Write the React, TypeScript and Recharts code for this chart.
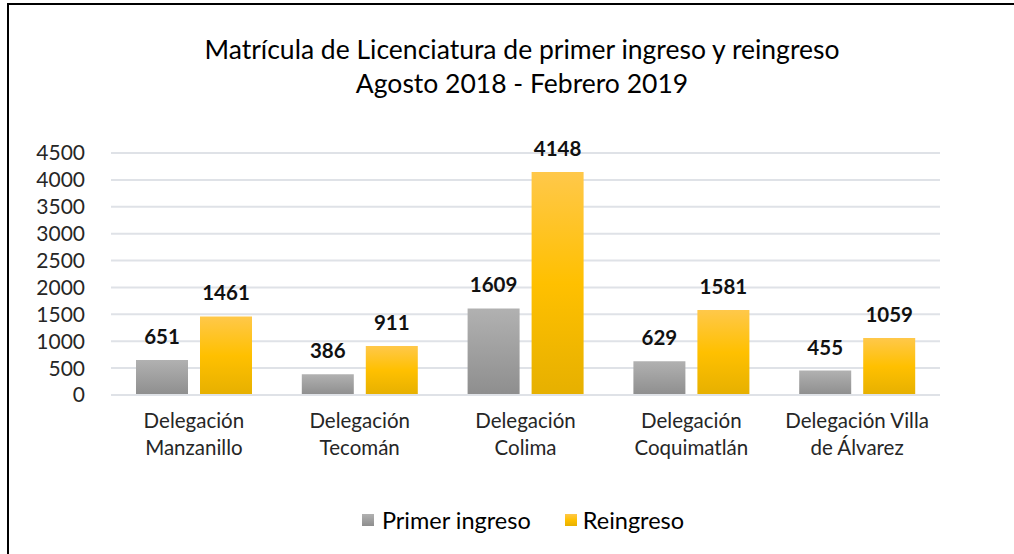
import React from 'react';
import { BarChart, Bar, XAxis, YAxis, CartesianGrid, LabelList } from 'recharts';

const categories = [
  'Delegación\nManzanillo',
  'Delegación\nTecomán',
  'Delegación\nColima',
  'Delegación\nCoquimatlán',
  'Delegación Villa\nde Álvarez',
];
const primerIngreso = [651, 386, 1609, 629, 455];
const reingreso = [1461, 911, 4148, 1581, 1059];
const yTicks = [0, 500, 1000, 1500, 2000, 2500, 3000, 3500, 4000, 4500];
const titleLines = ['Matrícula de Licenciatura de primer ingreso y reingreso', 'Agosto 2018 - Febrero 2019'];
const seriesNames = ['Primer ingreso', 'Reingreso'];

const data = categories.map((c, i) => ({ name: c, primer: primerIngreso[i], re: reingreso[i] }));

const FONT = 'Lato, "Open Sans", sans-serif';

const XTick = (props: any) => {
  const { x, y, payload } = props;
  const lines = String(payload.value).split('\n');
  return (
    <g transform={`translate(${x},${y})`}>
      {lines.map((l: string, i: number) => (
        <text key={i} x={0} y={i * 27} dy={25} textAnchor="middle" fill="#262626" fontSize={20.5} fontFamily={FONT}>
          {l}
        </text>
      ))}
    </g>
  );
};

export default function App() {
  return (
    <div style={{ position: 'absolute', left: 0, top: 0, width: 1014, height: 554, background: '#fff', overflow: 'hidden' }}>
      <div style={{ position: 'absolute', left: 7, top: 3, width: 1007, height: 2, background: '#000' }} />
      <div style={{ position: 'absolute', left: 7, top: 3, width: 2, height: 551, background: '#000' }} />
      <div style={{ position: 'absolute', left: 0, top: 32, width: 1044, textAlign: 'center', fontFamily: FONT, fontSize: 26.5, color: '#000', lineHeight: '34px' }}>
        {titleLines.map((t, i) => (<div key={i}>{t}</div>))}
      </div>
      <div style={{ position: 'absolute', left: 0, top: 0 }}>
        <BarChart width={1014} height={554} data={data} margin={{ top: 153, right: 74, left: 0, bottom: 99 }} barGap={12} barSize={52}>
          <defs>
            <linearGradient id="gGray" x1="0" y1="0" x2="0" y2="1">
              <stop offset="0%" stopColor="#b1b1b1" />
              <stop offset="100%" stopColor="#8e8e8e" />
            </linearGradient>
            <linearGradient id="gGold" x1="0" y1="0" x2="0" y2="1">
              <stop offset="0%" stopColor="#ffc84a" />
              <stop offset="50%" stopColor="#ffc000" />
              <stop offset="100%" stopColor="#e6b000" />
            </linearGradient>
          </defs>
          <CartesianGrid vertical={false} stroke="#dfe2e7" strokeWidth={2} />
          <XAxis dataKey="name" axisLine={{ stroke: '#dfe2e7', strokeWidth: 2 }} tickLine={false} tick={<XTick />} interval={0} height={60} />
          <YAxis domain={[0, 4500]} ticks={yTicks} width={111} axisLine={false} tickLine={false} tickSize={0} tickMargin={26}
            tick={{ fill: '#262626', fontSize: 21, fontFamily: FONT }} interval={0} />
          <Bar dataKey="primer" fill="url(#gGray)" isAnimationActive={false}>
            <LabelList dataKey="primer" position="top" offset={16} fill="#111" fontSize={20.5} fontWeight="bold" fontFamily={FONT} />
          </Bar>
          <Bar dataKey="re" fill="url(#gGold)" isAnimationActive={false}>
            <LabelList dataKey="re" position="top" offset={16} fill="#111" fontSize={20.5} fontWeight="bold" fontFamily={FONT} />
          </Bar>
        </BarChart>
      </div>
      <div style={{ position: 'absolute', left: 0, top: 506, width: 1046, display: 'flex', justifyContent: 'center', alignItems: 'center', fontFamily: FONT, fontSize: 23.5, color: '#000' }}>
        <span style={{ display: 'inline-block', width: 12, height: 12, background: 'linear-gradient(#b1b1b1,#8e8e8e)', marginRight: 8 }} />
        <span style={{ marginRight: 34 }}>{seriesNames[0]}</span>
        <span style={{ display: 'inline-block', width: 12, height: 12, background: 'linear-gradient(#ffc84a,#ffc000,#e6b000)', marginRight: 6 }} />
        <span>{seriesNames[1]}</span>
      </div>
    </div>
  );
}
